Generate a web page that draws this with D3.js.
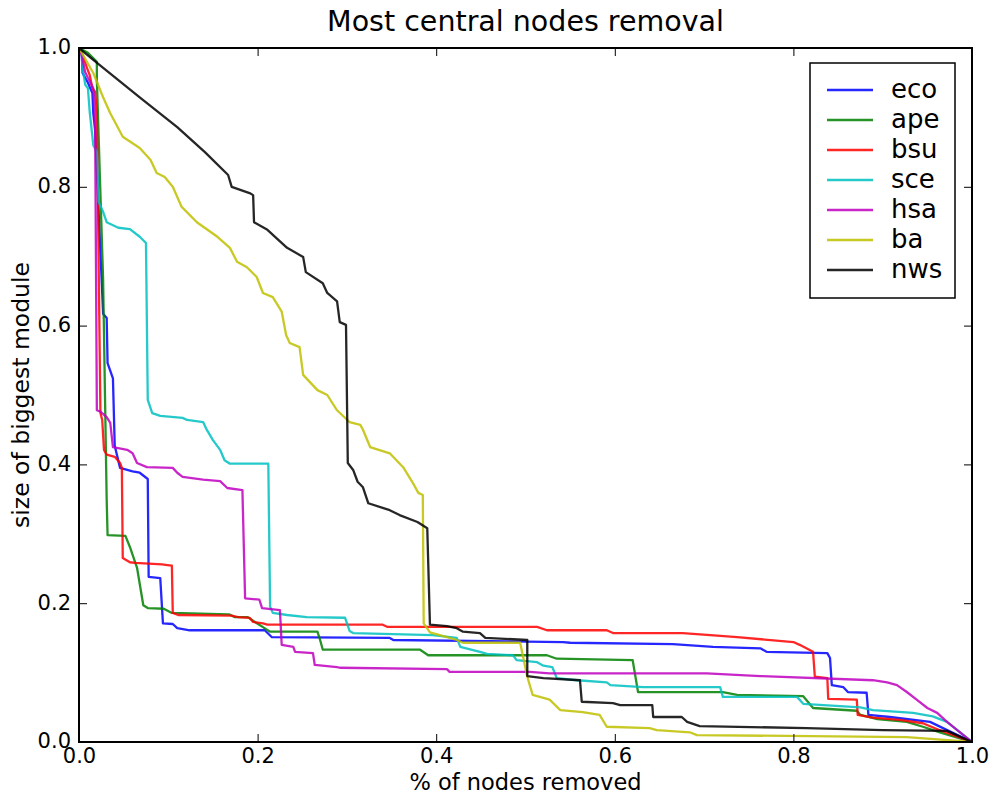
<!DOCTYPE html>
<html><head><meta charset="utf-8">
<script src="https://cdn.jsdelivr.net/npm/d3@7"></script>
<style>body{margin:0;background:#fff;} text{font-family:"DejaVu Sans",sans-serif;}</style>
</head><body>
<svg id="chart" width="996" height="794"></svg>
<script>
const seriesNames = ["eco","ape","bsu","sce","hsa","ba","nws"];
const seriesColors = ["#0000ff","#008000","#ff0000","#00bfbf","#bf00bf","#bfbf00","#000000"];
const xTicks = [0.0,0.2,0.4,0.6,0.8,1.0];
const yTicks = [0.0,0.2,0.4,0.6,0.8,1.0];

const eco = [[0,1],[0.003,0.994],[0.004,0.964],[0.010,0.950],[0.015,0.935],[0.016,0.906],[0.018,0.882],[0.027,0.617],[0.031,0.611],[0.032,0.546],[0.038,0.524],[0.040,0.427],[0.046,0.395],[0.060,0.390],[0.068,0.388],[0.077,0.379],[0.078,0.238],[0.091,0.236],[0.094,0.171],[0.105,0.170],[0.110,0.164],[0.124,0.161],[0.208,0.161],[0.216,0.151],[0.348,0.150],[0.352,0.147],[0.542,0.144],[0.550,0.143],[0.665,0.141],[0.710,0.137],[0.763,0.135],[0.770,0.130],[0.838,0.128],[0.841,0.121],[0.843,0.082],[0.856,0.079],[0.861,0.072],[0.882,0.071],[0.884,0.039],[0.908,0.036],[0.953,0.029],[1,0]];
const ape = [[0,1],[0.010,0.993],[0.020,0.980],[0.020,0.954],[0.027,0.666],[0.031,0.349],[0.032,0.298],[0.052,0.297],[0.057,0.281],[0.065,0.251],[0.072,0.197],[0.077,0.193],[0.095,0.192],[0.104,0.186],[0.168,0.184],[0.174,0.180],[0.189,0.180],[0.197,0.173],[0.209,0.163],[0.214,0.159],[0.267,0.159],[0.270,0.147],[0.273,0.133],[0.382,0.133],[0.391,0.125],[0.524,0.125],[0.535,0.120],[0.620,0.118],[0.626,0.072],[0.721,0.072],[0.737,0.068],[0.811,0.066],[0.822,0.049],[0.871,0.045],[0.875,0.039],[0.894,0.033],[0.927,0.029],[0.945,0.022],[0.964,0.014],[1,0]];
const bsu = [[0,1],[0.004,0.990],[0.009,0.971],[0.012,0.961],[0.015,0.942],[0.018,0.937],[0.020,0.908],[0.024,0.474],[0.026,0.464],[0.028,0.421],[0.031,0.414],[0.040,0.411],[0.046,0.402],[0.048,0.395],[0.049,0.265],[0.057,0.259],[0.063,0.258],[0.093,0.256],[0.099,0.255],[0.104,0.254],[0.105,0.186],[0.111,0.183],[0.171,0.182],[0.178,0.180],[0.191,0.179],[0.195,0.173],[0.206,0.171],[0.211,0.169],[0.340,0.169],[0.345,0.166],[0.513,0.166],[0.524,0.161],[0.591,0.161],[0.598,0.157],[0.676,0.157],[0.707,0.154],[0.737,0.151],[0.800,0.144],[0.807,0.140],[0.822,0.130],[0.824,0.094],[0.838,0.092],[0.839,0.062],[0.871,0.061],[0.872,0.039],[0.889,0.035],[0.919,0.032],[0.945,0.027],[0.964,0.017],[1,0]];
const sce = [[0,1],[0.003,0.994],[0.004,0.971],[0.007,0.947],[0.010,0.942],[0.012,0.908],[0.016,0.860],[0.020,0.850],[0.022,0.778],[0.027,0.764],[0.031,0.749],[0.044,0.741],[0.057,0.739],[0.068,0.728],[0.075,0.719],[0.077,0.493],[0.082,0.474],[0.091,0.470],[0.116,0.467],[0.121,0.464],[0.139,0.461],[0.143,0.450],[0.150,0.435],[0.158,0.421],[0.163,0.406],[0.169,0.401],[0.212,0.401],[0.214,0.195],[0.217,0.186],[0.233,0.183],[0.255,0.180],[0.298,0.179],[0.303,0.160],[0.307,0.157],[0.396,0.154],[0.423,0.150],[0.427,0.137],[0.449,0.130],[0.457,0.127],[0.486,0.125],[0.490,0.118],[0.513,0.115],[0.520,0.110],[0.530,0.108],[0.535,0.092],[0.558,0.089],[0.591,0.086],[0.595,0.082],[0.632,0.079],[0.718,0.079],[0.721,0.065],[0.804,0.065],[0.811,0.055],[0.875,0.050],[0.889,0.046],[0.934,0.042],[0.956,0.037],[0.972,0.029],[1,0]];
const hsa = [[0,1],[0.003,0.990],[0.007,0.965],[0.010,0.957],[0.016,0.942],[0.018,0.908],[0.020,0.478],[0.024,0.476],[0.031,0.468],[0.035,0.460],[0.038,0.425],[0.054,0.421],[0.060,0.416],[0.065,0.402],[0.076,0.396],[0.105,0.395],[0.110,0.388],[0.116,0.382],[0.139,0.378],[0.158,0.376],[0.166,0.366],[0.183,0.363],[0.186,0.207],[0.202,0.205],[0.205,0.193],[0.225,0.190],[0.227,0.140],[0.240,0.137],[0.242,0.130],[0.262,0.128],[0.264,0.111],[0.289,0.108],[0.292,0.107],[0.412,0.105],[0.415,0.101],[0.505,0.101],[0.527,0.099],[0.703,0.099],[0.763,0.095],[0.889,0.089],[0.905,0.086],[0.916,0.082],[0.927,0.072],[0.938,0.061],[0.950,0.049],[0.961,0.042],[0.972,0.029],[1,0]];
const ba = [[0,1],[0.016,0.964],[0.027,0.929],[0.035,0.906],[0.049,0.872],[0.068,0.856],[0.080,0.839],[0.087,0.820],[0.096,0.814],[0.105,0.800],[0.115,0.771],[0.132,0.749],[0.155,0.728],[0.169,0.712],[0.177,0.692],[0.188,0.684],[0.199,0.670],[0.206,0.647],[0.217,0.641],[0.227,0.620],[0.232,0.586],[0.236,0.575],[0.247,0.569],[0.251,0.529],[0.267,0.507],[0.278,0.500],[0.289,0.478],[0.303,0.461],[0.315,0.457],[0.318,0.450],[0.326,0.425],[0.348,0.416],[0.363,0.396],[0.374,0.373],[0.380,0.359],[0.385,0.356],[0.386,0.171],[0.393,0.158],[0.412,0.151],[0.423,0.147],[0.430,0.143],[0.494,0.143],[0.502,0.094],[0.508,0.068],[0.527,0.061],[0.539,0.046],[0.564,0.043],[0.583,0.039],[0.591,0.022],[0.639,0.020],[0.647,0.017],[0.684,0.014],[0.692,0.010],[0.927,0.007],[1,0]];
const nws = [[0,1],[0.016,0.983],[0.068,0.929],[0.110,0.886],[0.141,0.850],[0.167,0.817],[0.171,0.800],[0.191,0.791],[0.195,0.788],[0.196,0.749],[0.211,0.738],[0.233,0.712],[0.251,0.699],[0.254,0.677],[0.273,0.661],[0.278,0.647],[0.289,0.635],[0.292,0.605],[0.299,0.601],[0.301,0.402],[0.307,0.392],[0.312,0.375],[0.318,0.367],[0.324,0.344],[0.348,0.334],[0.359,0.327],[0.379,0.317],[0.390,0.308],[0.393,0.169],[0.412,0.167],[0.423,0.164],[0.430,0.159],[0.449,0.157],[0.455,0.150],[0.502,0.147],[0.502,0.095],[0.520,0.092],[0.561,0.089],[0.563,0.058],[0.598,0.056],[0.606,0.053],[0.642,0.053],[0.643,0.036],[0.675,0.036],[0.681,0.029],[0.695,0.023],[0.815,0.020],[0.900,0.017],[0.972,0.016],[1,0]];
const seriesData = [eco, ape, bsu, sce, hsa, ba, nws];

const svg = d3.select("#chart");
const L = 79, R = 972, T = 48, B = 742;
const x = d3.scaleLinear().domain([0,1]).range([L,R]);
const y = d3.scaleLinear().domain([0,1]).range([B,T]);
const fmt = d3.format(".1f");

svg.append("rect").attr("width",996).attr("height",794).attr("fill","#fff");

// lines
const line = d3.line().x(d=>x(d[0])).y(d=>y(d[1]));
svg.append("clipPath").attr("id","clip").append("rect")
  .attr("x",L).attr("y",T).attr("width",R-L).attr("height",B-T);
const g = svg.append("g").attr("clip-path","url(#clip)");
seriesData.forEach((s,i)=>{
  g.append("path").datum(s).attr("d",line).attr("fill","none")
    .attr("stroke",seriesColors[i]).attr("stroke-width",2.3).attr("stroke-opacity",0.85)
    .attr("stroke-linejoin","round");
});

// axes
const ax = (gen, tr, fs) => {
  const a = svg.append("g").attr("transform",tr).call(gen);
  a.select(".domain").remove();
  a.selectAll(".tick line").attr("stroke","#000").attr("stroke-width",1);
  a.selectAll("text").attr("font-size",fs).attr("fill","#000").attr("font-family","DejaVu Sans");
  return a;
};
ax(d3.axisBottom(x).tickValues(xTicks).tickFormat(fmt).tickSize(-8).tickPadding(6), `translate(0,${B})`, 21);
ax(d3.axisTop(x).tickValues(xTicks).tickFormat("").tickSize(-8), `translate(0,${T})`, 21);
const yl = ax(d3.axisLeft(y).tickValues(yTicks).tickFormat(fmt).tickSize(-8).tickPadding(8), `translate(${L},0)`, 21);
yl.selectAll("text").attr("dy","0.28em");
ax(d3.axisRight(y).tickValues(yTicks).tickFormat("").tickSize(-8), `translate(${R},0)`, 21);

svg.append("rect").attr("x",L).attr("y",T).attr("width",R-L).attr("height",B-T)
  .attr("fill","none").attr("stroke","#000").attr("stroke-width",2);

// titles
svg.append("text").attr("x",(L+R)/2).attr("y",31).attr("text-anchor","middle")
  .attr("font-size",28.5).text("Most central nodes removal");
svg.append("text").attr("x",(L+R)/2).attr("y",790).attr("text-anchor","middle")
  .attr("font-size",22.5).text("% of nodes removed");
svg.append("text").attr("transform",`translate(29,${(T+B)/2}) rotate(-90)`).attr("text-anchor","middle")
  .attr("font-size",23.5).text("size of biggest module");

// legend
const lg = svg.append("g");
lg.append("rect").attr("x",810).attr("y",63).attr("width",145).attr("height",235)
  .attr("fill","#fff").attr("stroke","#000").attr("stroke-width",1.5);
seriesNames.forEach((n,i)=>{
  const yy = 90 + i*30;
  lg.append("line").attr("x1",827).attr("x2",873).attr("y1",yy).attr("y2",yy)
    .attr("stroke",seriesColors[i]).attr("stroke-width",2.3).attr("stroke-opacity",0.85);
  lg.append("text").attr("x",891).attr("y",yy).attr("dy","0.3em").attr("font-size",26).text(n);
});
</script>
</body></html>
